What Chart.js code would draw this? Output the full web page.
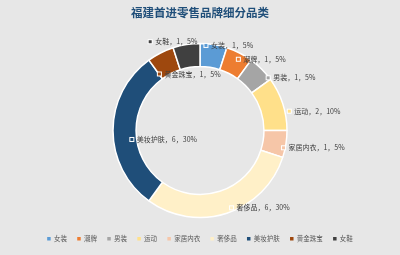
<!DOCTYPE html>
<html>
<head>
<meta charset="utf-8">
<script src="https://cdn.jsdelivr.net/npm/chart.js@4"></script>
<style>
  html, body {margin: 0; padding: 0; background: #e7e7e7;}
  #wrap {width: 400px; height: 255px;}
</style>
</head>
<body>
<div id="wrap"><canvas id="donut_chart" width="400" height="255"></canvas></div>
<script>
//----------------------------------------
//--- Data
//----------------------------------------

var categories = ['女装', '潮牌', '男装', '运动', '家居内衣', '奢侈品', '美妆护肤', '黄金珠宝', '女鞋'];
var brand_counts = [1, 1, 1, 2, 1, 6, 6, 1, 1];
var share_pct = [5, 5, 5, 10, 5, 30, 30, 5, 5];

var slice_colors = ['#5b9bd5', '#ed7d31', '#a5a5a5', '#ffe08a', '#f6c6a8', '#fff0c8', '#1f4e79', '#9e480e', '#404040'];

// label anchor: [angle in degrees from 12 o'clock, fraction of outer radius]
var label_spots = [[4, 0.98], [28.3, 0.93], [52.3, 0.99], [77.8, 1.05], [101.7, 0.98], [157.8, 0.96], [262.5, 0.79], [324.3, 0.80], [330.7, 1.17]];

var FONT = '"Noto Sans CJK SC", "Noto Sans", sans-serif';

//----------------------------------------
//--- Data label plugin
//----------------------------------------

var slice_labels = {
    id: 'slice_labels',
    afterDatasetsDraw: function(chart) {
        var ctx = chart.ctx;
        var arc = chart.getDatasetMeta(0).data[0];
        var cx = arc.x, cy = arc.y, r = arc.outerRadius;
        ctx.save();
        ctx.font = '7px ' + FONT;
        ctx.textBaseline = 'middle';
        ctx.textAlign = 'left';
        categories.forEach(function(name, i) {
            var a = label_spots[i][0] * Math.PI / 180;
            var px = cx + Math.sin(a) * r * label_spots[i][1];
            var py = cy - Math.cos(a) * r * label_spots[i][1];
            ctx.fillStyle = '#ffffff';
            ctx.fillRect(px - 2.5, py - 2.5, 5, 5);
            ctx.fillStyle = slice_colors[i];
            ctx.fillRect(px - 1.5, py - 1.5, 3, 3);
            ctx.fillStyle = '#404040';
            ctx.fillText(name + '，' + brand_counts[i] + '，' + share_pct[i] + '%', px + 5, py);
        });
        ctx.restore();
    }
};

var default_labels = Chart.overrides.doughnut.plugins.legend.labels.generateLabels;

//----------------------------------------
//--- Doughnut chart
//----------------------------------------

var donut_chart = new Chart(document.getElementById('donut_chart').getContext('2d'), {
    type: 'doughnut',
    data: {
        labels: categories,
        datasets: [{
            data: brand_counts,
            backgroundColor: slice_colors,
            borderColor: '#ffffff', borderWidth: 1.5,
            radius: 87
        }]
    },
    options: {
        responsive: false, animation: false,
        cutout: '73.5%',
        layout: {padding: {top: 0, bottom: 3, left: 0, right: 0}},
        plugins: {
            title: {
                display: true, text: '福建首进零售品牌细分品类',
                color: '#1f4e79', font: {family: FONT, size: 11.5, weight: 'bold'},
                padding: {top: 6, bottom: 16}
            },
            legend: {
                position: 'bottom',
                labels: {
                    boxWidth: 3.5, boxHeight: 3.5, padding: 10.3, color: '#595959',
                    font: {family: FONT, size: 6.5},
                    generateLabels: function(chart) {
                        return default_labels(chart).map(function(item) {
                            item.lineWidth = 0;
                            return item;
                        });
                    }
                }
            },
            tooltip: {enabled: false}
        }
    },
    plugins: [slice_labels]
});
</script>
</body>
</html>
